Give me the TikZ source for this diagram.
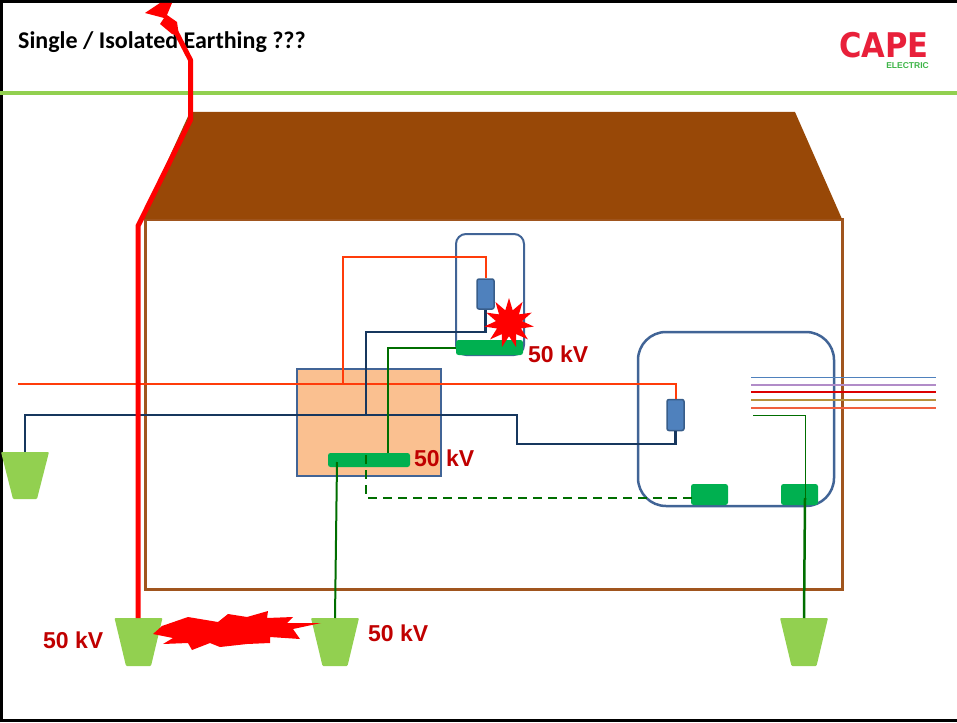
\documentclass[tikz,border=0pt]{standalone}
\usepackage{fontspec}
\setmainfont{Liberation Sans}
\newfontfamily\titlefont{Carlito}
\newfontfamily\capefont{DejaVu Sans}
\usetikzlibrary{shapes.geometric}

\definecolor{roofbrown}{RGB}{152,72,7}
\definecolor{wallbrown}{RGB}{160,85,30}
\definecolor{leafgreen}{RGB}{146,208,80}
\definecolor{barGreen}{RGB}{0,176,80}
\definecolor{earthgreen}{RGB}{0,110,0}
\definecolor{navyline}{RGB}{23,55,94}
\definecolor{phasered}{RGB}{255,60,10}
\definecolor{boxblue}{RGB}{65,100,150}
\definecolor{fuseblue}{RGB}{79,129,189}
\definecolor{fuseedge}{RGB}{56,93,138}
\definecolor{peach}{RGB}{250,192,144}
\definecolor{kvred}{RGB}{192,0,0}
\definecolor{capered}{RGB}{232,32,58}
\definecolor{capegreen}{RGB}{60,180,70}
\definecolor{c1blue}{RGB}{79,129,189}
\definecolor{c2purple}{RGB}{177,140,200}
\definecolor{c3red}{RGB}{220,0,0}
\definecolor{c4gold}{RGB}{184,145,60}
\definecolor{c5orange}{RGB}{240,96,63}

\tikzset{
  wire/.style={line width=2pt},
  bar/.style={fill=barGreen, draw=none, rounded corners=2.5pt, inner sep=0pt},
  fuse/.style={fill=fuseblue, draw=fuseedge, line width=1.5pt, rounded corners=2pt,
    inner sep=0pt, minimum width=17pt, minimum height=30pt},
  kv/.style={text=kvred, font=\bfseries\fontsize{23}{26}\selectfont, inner sep=0pt, anchor=base west},
  rodfill/.style={fill=leafgreen, rounded corners=1pt},
  enclosure/.style={draw=boxblue, line width=2pt, inner sep=0pt},
}

\begin{document}
\begin{tikzpicture}[x=1pt, y=-1pt]
\useasboundingbox (0,0) rectangle (957,722);

% slide frame
\draw[line width=3pt] (1.5,722) -- (1.5,1.5) -- (957,1.5);
\draw[line width=3pt] (0,720.5) -- (957,720.5);

% heading and logo
\node[anchor=base west, inner sep=0pt, font=\titlefont\bfseries\fontsize{24}{28}\selectfont] (title) at (18,49) {Single / Isolated Earthing ???};
\node[anchor=base east, inner sep=0pt, text depth=0pt, text height=25pt, text=capered, font=\capefont\bfseries\fontsize{34}{36}\selectfont] (cape) at (929,57.5) {\scalebox{0.9}[1]{CAPE}};
\node[anchor=base east, inner sep=0pt, text depth=0pt, text height=6pt, text=capegreen, font=\bfseries\fontsize{8.5}{9}\selectfont] (electric) at (929,68.5) {ELECTRIC};
\draw[leafgreen, line width=4pt] (0,93) -- (957,93);

% house walls and roof
\draw[wallbrown, line width=3pt] (145,219) rectangle (842,589);
\fill[roofbrown] (190,112) -- (795,112) -- (842,219) -- (141,219) -- cycle;

% earth electrodes
\fill[rodfill] (1,452) -- (49,452) -- (37,499) -- (13,499) -- cycle;
\coordinate (rodW) at (25,452);
\fill[rodfill] (114.5,618) -- (162.5,618) -- (151,666) -- (126,666) -- cycle;
\coordinate (rodA) at (138,618);
\fill[rodfill] (311,618) -- (359,618) -- (347.5,666) -- (322.5,666) -- cycle;
\coordinate (rodM) at (335,618);
\fill[rodfill] (780,618) -- (828,618) -- (816.5,666) -- (791.5,666) -- cycle;
\coordinate (rodR) at (804,618);

% distribution board, appliance and meter enclosures
\node[enclosure, fill=peach, line width=2.5pt, minimum width=144pt, minimum height=107pt] (db) at (369,422.5) {};
\node[bar, minimum width=82pt, minimum height=14pt] (dbbar) at (369,460) {};
\node[enclosure, rounded corners=10pt, minimum width=68pt, minimum height=121pt] (sb) at (490,294.5) {};
\node[bar, minimum width=67pt, minimum height=15pt] (sbbar) at (489.5,347.5) {};
\node[enclosure, line width=2.5pt, rounded corners=28pt, minimum width=196pt, minimum height=174pt] (cu) at (736,419) {};
\node[bar, minimum width=37pt, minimum height=21pt] (cbar1) at (709.5,494.5) {};
\node[bar, minimum width=37pt, minimum height=21pt] (cbar2) at (799.5,494.5) {};

% incoming service conductors
\draw[c1blue, line width=1pt] (751,377) -- (936,377);
\draw[c2purple, line width=2pt] (751,385) -- (936,385);
\draw[c3red, line width=1.3pt] (751,392) -- (936,392);
\draw[c4gold, line width=2pt] (751,400) -- (936,400);
\draw[c5orange, line width=1.5pt] (751,408) -- (936,408);

% coordinates of wire bends
\coordinate (phin) at (18,384);
\coordinate (ptap) at (343,384);
\coordinate (pbend) at (343,257);
\coordinate (nbend) at (517,415);
\coordinate (ndrop) at (517,444);
\coordinate (ntap) at (366,415);
\coordinate (nbend2) at (366,332);
\coordinate (eup) at (388,453);
\coordinate (edn) at (337,462);
\coordinate (dtop) at (366,455);
\coordinate (dend) at (697,498);
\coordinate (rtap) at (753,415);
\coordinate (rbend) at (805,498);

% fuses
\node[fuse] (sfuse) at (485.5,294) {};
\node[fuse, minimum height=31pt] (mfuse) at (675.5,415) {};

% phase wiring
\draw[wire, phasered] (phin) -| (mfuse.north);
\draw[wire, phasered] (ptap) -- (pbend) -| (sfuse.north);

% neutral wiring
\draw[wire, navyline, line width=2.5pt] (rodW) |- (nbend) -- (ndrop) -| (mfuse.south);
\draw[wire, navyline, line width=2.5pt] (ntap) -- (nbend2) -| (sfuse.south);

% protective earth wiring
\draw[wire, earthgreen] (eup) |- (sbbar.west);
\draw[wire, earthgreen] (edn) -- (rodM);
\draw[earthgreen, line width=2.5pt, dash pattern=on 9pt off 6pt] (dtop) |- (dend);
\draw[earthgreen, line width=1pt] (rtap) -| (rbend);
\draw[earthgreen, line width=2.5pt] (rbend) -- (rodR);

% lightning strike down the outside of the house
\fill[red] (145,13) -- (160,3) -- (172,3) -- (167,15) -- (177,22) -- (179,36) -- (172,34)
  -- (160,24) -- (164,18) -- cycle;
\draw[red, line width=5pt, line join=round] (175,30) -- (190.5,60) -- (190.5,120) -- (138,226) -- (138,618);

% flashover at the appliance
\node[star, star points=11, star point ratio=1.9, fill=red, inner sep=0pt, minimum size=50pt] (flash) at (509,323) {};

% flashover between the earth electrodes
\fill[red] (153,634) -- (162,626) -- (188,617) -- (218,622) -- (228,614) -- (247,617) -- (268,611)
  -- (267,618) -- (293,617) -- (287,623) -- (321,623) -- (293,629) -- (300,639) -- (270,637)
  -- (270,643) -- (247,644) -- (220,647) -- (210,643) -- (192,650) -- (188,643) -- (163,644)
  -- (173,638) -- cycle;

% potential labels
\node[kv] (kv1) at (528,362) {50 kV};
\node[kv] (kv2) at (414,466) {50 kV};
\node[kv] (kv3) at (43,648) {50 kV};
\node[kv] (kv4) at (368,641) {50 kV};
\end{tikzpicture}
\end{document}
